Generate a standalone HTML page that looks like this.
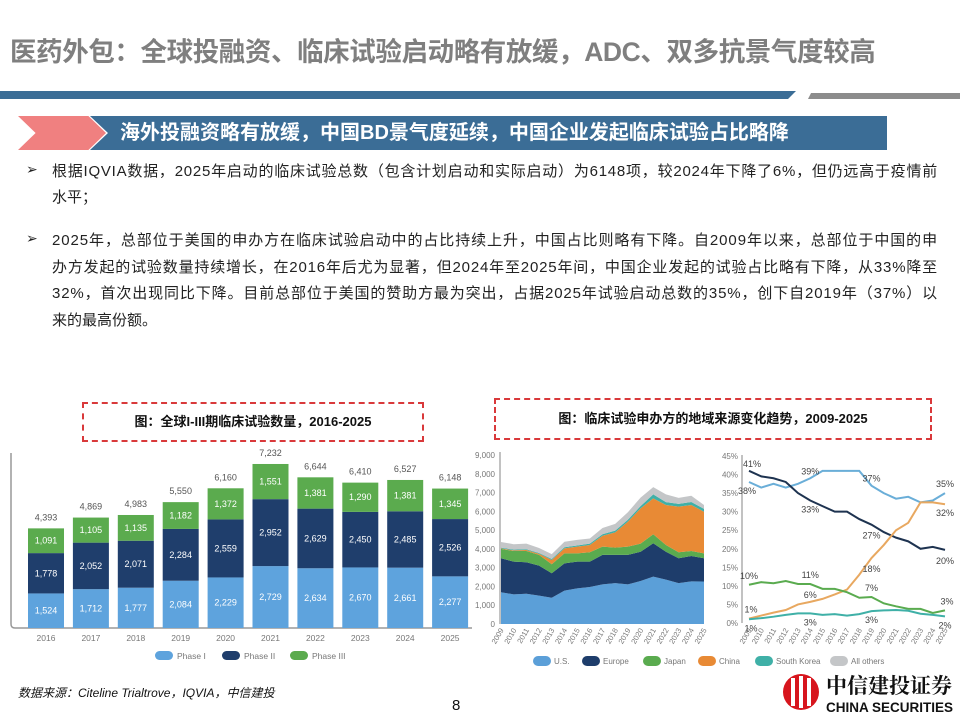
<!DOCTYPE html>
<html><head><meta charset="utf-8">
<style>
body{margin:0;width:960px;height:720px;overflow:hidden;background:#fff;font-family:"Liberation Sans","Noto Sans CJK SC",sans-serif;position:relative}
.abs{position:absolute;white-space:nowrap}
#title{left:10px;top:30px;font-size:26.5px;font-weight:bold;color:#7f7f7f;letter-spacing:-0.4px}
.ln{left:52px;font-size:15px;color:#222}
.bul{left:26px;font-size:14px;color:#222}
.box{position:absolute;border:2px dashed #d9393b;font-size:13px;font-weight:bold;color:#111;text-align:center}
</style></head><body>
<div id="title" class="abs">医药外包：全球投融资、临床试验启动略有放缓，ADC、双多抗景气度较高</div>
<div class="abs" style="left:0;top:91px;width:796px;height:8px;background:#3b6d96;clip-path:polygon(0 0,100% 0,99% 100%,0 100%)"></div>
<div class="abs" style="left:808px;top:93px;width:152px;height:6px;background:#8c8c8c;clip-path:polygon(2% 0,100% 0,100% 100%,0 100%)"></div>
<div class="abs" style="left:18px;top:116px;width:88px;height:34px;background:#f08080;clip-path:polygon(0 0,80% 0,100% 50%,80% 100%,0 100%,20% 50%)"></div>
<div class="abs" style="left:90px;top:116px;width:797px;height:34px;background:#3b6d96;clip-path:polygon(0 0,100% 0,100% 100%,0 100%,18px 50%);color:#fff;font-size:20px;font-weight:bold;line-height:34px;padding-left:30px;box-sizing:border-box">海外投融资略有放缓，中国BD景气度延续，中国企业发起临床试验占比略降</div>
<div class="abs bul" style="top:161px">➢</div>
<div class="abs ln fit" style="top:160px">根据IQVIA数据，2025年启动的临床试验总数（包含计划启动和实际启动）为6148项，较2024年下降了6%，但仍远高于疫情前</div>
<div class="abs ln" style="top:186px">水平；</div>
<div class="abs bul" style="top:230px">➢</div>
<div class="abs ln fit" style="top:229px">2025年，总部位于美国的申办方在临床试验启动中的占比持续上升，中国占比则略有下降。自2009年以来，总部位于中国的申</div>
<div class="abs ln fit" style="top:256px">办方发起的试验数量持续增长，在2016年后尤为显著，但2024年至2025年间，中国企业发起的试验占比略有下降，从33%降至</div>
<div class="abs ln fit" style="top:282px">32%，首次出现同比下降。目前总部位于美国的赞助方最为突出，占据2025年试验启动总数的35%，创下自2019年（37%）以</div>
<div class="abs ln" style="top:309px">来的最高份额。</div>
<div class="box" style="left:82px;top:402px;width:338px;height:36px;line-height:36px">图：全球I-III期临床试验数量，2016-2025</div>
<div class="box" style="left:494px;top:398px;width:434px;height:38px;line-height:38px">图：临床试验申办方的地域来源变化趋势，2009-2025</div>
<div class="abs" style="left:18px;top:684px;font-size:12px;font-style:italic;color:#111">数据来源：Citeline Trialtrove，IQVIA，中信建投</div>
<div class="abs" style="left:452px;top:697px;font-size:15px;color:#111">8</div>
<svg class="abs" style="left:0;top:0" width="960" height="720" id="svg">
<g>
<circle cx="801" cy="692" r="18" fill="#d7151d"/>
<rect x="791" y="678" width="4" height="28" fill="#fff"/><rect x="799" y="676" width="4" height="32" fill="#fff"/><rect x="807" y="678" width="4" height="28" fill="#fff"/>
<text x="826" y="693" font-size="21" font-weight="bold" fill="#111" font-family="Noto Serif CJK SC,serif">中信建投证券</text>
<text x="826" y="712" font-size="13.5" font-weight="bold" fill="#111">CHINA SECURITIES</text>
</g>
</svg>
<script>
const yearsA=["2016","2017","2018","2019","2020","2021","2022","2023","2024","2025"];
const phase1=[1524,1712,1777,2084,2229,2729,2634,2670,2661,2277];
const phase2=[1778,2052,2071,2284,2559,2952,2629,2450,2485,2526];
const phase3=[1091,1105,1135,1182,1372,1551,1381,1290,1381,1345];
const totals=[4393,4869,4983,5550,6160,7232,6644,6410,6527,6148];

const yearsB=["2009","2010","2011","2012","2013","2014","2015","2016","2017","2018","2019","2020","2021","2022","2023","2024","2025"];
const areaUS=[1690,1580,1610,1510,1400,1780,1900,1970,2110,2180,2110,2290,2520,2360,2180,2270,2260];
const areaEurope=[1810,1740,1680,1600,1300,1450,1420,1350,1570,1500,1570,1560,1780,1490,1320,1350,1240];
const areaJapan=[500,570,600,570,480,530,440,500,440,390,440,430,480,360,320,270,260];
const areaChina=[30,30,50,60,230,270,360,390,580,810,1330,1880,1910,2130,2430,2450,2220];
const areaKorea=[40,40,40,40,50,60,60,70,80,90,100,120,210,150,150,160,150];
const areaOthers=[300,290,300,270,260,290,300,270,330,360,400,450,390,410,320,330,210];
const areaTicks=[0,1000,2000,3000,4000,5000,6000,7000,8000,9000];

const pctUS=[38,36.5,37.5,36.5,37.5,39,41,41,41,41,37,35,33.5,34,32.5,33,35];
const pctEurope=[41,39.5,39,38,35,33,31.5,30,30,28,26.5,24.5,23,22,20,20.5,19.7];
const pctChina=[1.2,2,2.8,3.5,5,5.7,6.5,7.7,9,13,17.5,21,25,27,32.5,32.5,32];
const pctJapan=[10.3,11,10.7,11.3,10.5,10.5,9.2,9.2,8.3,6.8,7,5.3,4.5,3.8,3.8,2.7,3.4];
const pctKorea=[1,1.3,1.7,2.2,2.6,2.6,2.2,2.4,2,2.4,3.2,3.4,3.5,3.3,2.5,2.2,1.8];
const pctTicks=[0,5,10,15,20,25,30,35,40,45];

document.querySelectorAll('.fit').forEach(el=>{
  const w=el.getBoundingClientRect().width;const n=el.textContent.length;
  el.style.letterSpacing=((886-w)/n)+'px';
});

const svg=document.getElementById('svg');
const NS='http://www.w3.org/2000/svg';
function mk(tag,at,parent){const e=document.createElementNS(NS,tag);for(const k in at)e.setAttribute(k,at[k]);(parent||svg).appendChild(e);return e;}
function tx(x,y,s,at){const e=mk('text',Object.assign({x:x,y:y,'font-size':9,fill:'#666'},at||{}));e.textContent=s;return e;}
const C={p1:'#5ea3dd',p2:'#1f3e6c',p3:'#5bab4e',us:'#5b9fd8',eu:'#1e3d6b',jp:'#5aab4f',cn:'#e88a35',kr:'#3fb0a7',ot:'#c4c6c8'};

// Bar chart
const bx=i=>46+i*44.9, by=v=>628-v*0.02268;
let ax=mk('path',{d:'M11 453 V624 Q11 628 15 628 H472',stroke:'#999','stroke-width':1.5,fill:'none'});

yearsA.forEach((yr,i)=>{
  const x=bx(i)-18;let base=0;
  [[phase1,C.p1,'phase1'],[phase2,C.p2,'phase2'],[phase3,C.p3,'phase3']].forEach(([arr,col,nm])=>{
    const v=arr[i];const r=mk('rect',{x:x,y:by(base+v),width:36,height:by(base)-by(base+v),fill:col});
    
    
    tx(bx(i),by(base+v/2)+3,v.toLocaleString('en-US'),{fill:'#fff','text-anchor':'middle','font-size':9});
    base+=v;
  });
  tx(bx(i),by(totals[i])-8,totals[i].toLocaleString('en-US'),{'text-anchor':'middle','fill':'#555'});
  tx(bx(i),641,yr,{'text-anchor':'middle','font-size':8.5,'fill':'#777'});
});
[['Phase I',C.p1,155],['Phase II',C.p2,222],['Phase III',C.p3,290]].forEach(([n,c,x])=>{
  const r=mk('rect',{x:x,y:651,width:18,height:9,rx:4.5,fill:c});
  
  
  tx(x+22,659,n,{'font-size':8.5,fill:'#777'});
});

// Area chart
const axX=i=>501+i*(203/16), ayY=v=>624-v*169/9000;
areaTicks.forEach(t=>tx(495,ayY(t)+3,t.toLocaleString('en-US'),{'text-anchor':'end','font-size':8,fill:'#777'}));
const series=[[areaUS,C.us,'us'],[areaEurope,C.eu,'europe'],[areaJapan,C.jp,'japan'],[areaChina,C.cn,'china'],[areaKorea,C.kr,'south-korea'],[areaOthers,C.ot,'all-others']];
let cum=yearsB.map(()=>0);
series.forEach(([arr,col,nm])=>{
  const lo=cum.slice();cum=cum.map((c,i)=>c+arr[i]);
  let d='M'+yearsB.map((_,i)=>axX(i)+' '+ayY(cum[i])).join(' L');
  for(let i=yearsB.length-1;i>=0;i--)d+=' L'+axX(i)+' '+ayY(lo[i]);
  const p=mk('path',{d:d+'Z',fill:col});
  
  
});
mk('line',{x1:500,y1:452,x2:500,y2:624,stroke:'#999','stroke-width':1.2});
yearsB.forEach((y,i)=>tx(axX(i)+3,630,y,{'font-size':7.5,fill:'#777','text-anchor':'end',transform:'rotate(-60 '+(axX(i)+3)+' 630)'}));
[['U.S.',C.us,533],['Europe',C.eu,582],['Japan',C.jp,643],['China',C.cn,698],['South Korea',C.kr,755],['All others',C.ot,830]].forEach(([n,c,x])=>{
  const r=mk('rect',{x:x,y:656,width:18,height:10,rx:5,fill:c});
  
  
  tx(x+21,664,n,{'font-size':8,fill:'#777'});
});

// Line chart
const lx=i=>749+i*(196/16), ly=v=>623-v*167/45;
pctTicks.forEach(t=>tx(738,ly(t)+3,t+'%',{'text-anchor':'end','font-size':8,fill:'#777'}));
mk('line',{x1:742,y1:455,x2:742,y2:623,stroke:'#999','stroke-width':1.2});
yearsB.forEach((y,i)=>tx(lx(i)+3,630,y,{'font-size':7.5,fill:'#777','text-anchor':'end',transform:'rotate(-60 '+(lx(i)+3)+' 630)'}));
[[pctUS,'#6aaed8','us'],[pctEurope,'#1e3350','europe'],[pctChina,'#e8a860','china'],[pctJapan,'#5aab4f','japan'],[pctKorea,'#3fb0a7','south-korea']].forEach(([arr,col,nm])=>{
  const p=mk('polyline',{points:arr.map((v,i)=>lx(i)+','+ly(v)).join(' '),fill:'none',stroke:col,'stroke-width':2});
  
  
});
function lab(arr,i,dy,dx){tx(lx(i)+(dx||0),ly(arr[i])+dy,Math.round(arr[i])+'%',{'font-size':9,fill:'#444','text-anchor':'middle'});}
lab(pctEurope,0,-4,3);lab(pctUS,0,12,-2);lab(pctUS,5,-4);lab(pctEurope,5,12);lab(pctUS,10,-4);lab(pctEurope,10,14);
lab(pctChina,10,14);lab(pctJapan,10,-6);lab(pctKorea,10,12);lab(pctUS,16,-6);lab(pctChina,16,12);lab(pctEurope,16,14);
lab(pctJapan,16,-6,2);lab(pctKorea,16,12);lab(pctJapan,0,-6);lab(pctJapan,5,-6);lab(pctChina,5,-4);lab(pctKorea,5,12);
lab(pctChina,0,-6,2);lab(pctKorea,0,12,2);
</script>
</body></html>
